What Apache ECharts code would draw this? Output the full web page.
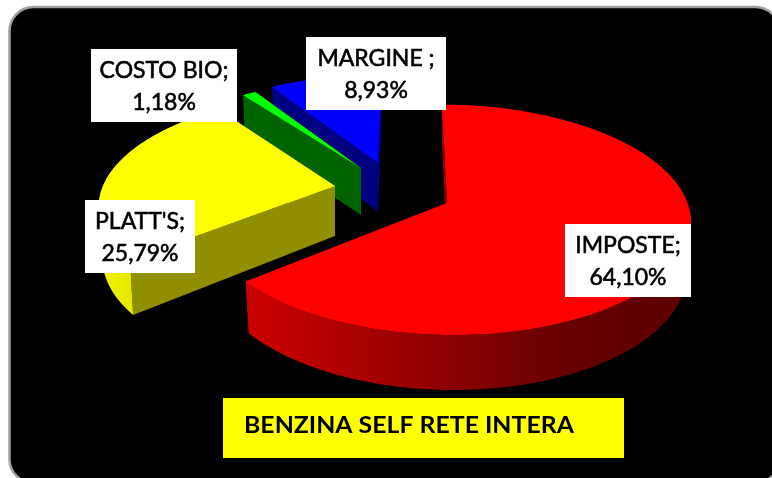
<!DOCTYPE html>
<html><head><meta charset="utf-8">
<style>html,body{margin:0;padding:0;background:#fff}#c{width:772px;height:478px}</style>
<script src="https://cdn.jsdelivr.net/npm/echarts@6/dist/echarts.min.js"></script>
</head><body><div id="c"></div>
<script>
// Data
const categories = ['IMPOSTE', "PLATT'S", 'COSTO BIO', 'MARGINE '];
const percentages = [64.10, 25.79, 1.18, 8.93];
const percentLabels = ['64,10%', '25,79%', '1,18%', '8,93%'];
const chartTitle = 'BENZINA SELF RETE INTERA';

// Colours per slice: top, radial wall, outer wall gradient stops
const topColors = ['#ff0000', '#ffff00', '#00ff00', '#0000ff'];
const wallColors = ['#8b0000', '#8f8f00', '#006400', '#000080'];
const outerStops = [
  [[0, '#cc0000'], [0.25, '#aa0000'], [0.72, '#660000'], [1, '#5c0000']],
  [[0, '#f4f400'], [1, '#c4c400']],
  [[0, '#006400'], [1, '#006400']],
  [[0, '#000080'], [1, '#000080']]
];
// Exploded-view layout per slice: apex x, y, scale x, scale y, skew, depth
const sliceLayout = [
  { cx: 447, cy: 203, sx: 240.5, sy: 112.7, skew: 5.7, depth: 47 },
  { cx: 335, cy: 186, sx: 232, sy: 106, skew: -10, depth: 50 },
  { cx: 361, cy: 168, sx: 215, sy: 101, skew: 5, depth: 47 },
  { cx: 378, cy: 163, sx: 230, sy: 101, skew: -4, depth: 49 }
];
const paintOrder = [3, 2, 1, 0];
// Label boxes: x, y, w, h
const labelBoxes = [
  [565, 224, 126, 73],
  [85, 200, 110, 73],
  [91, 49, 146, 73],
  [306, 37, 140, 73]
];
const PERSPECTIVE = 0.146;
const BOTTOM_SHRINK = 0.985;

const total = percentages.reduce((a, b) => a + b, 0);
let acc = 0;
const angleStart = [], angleEnd = [];
percentages.forEach((v, i) => {
  angleStart[i] = acc / total * Math.PI * 2;
  acc += v;
  angleEnd[i] = acc / total * Math.PI * 2;
});

function project(L, a, r, lower) {
  const u = Math.sin(a) * r, v = -Math.cos(a) * r;
  const w = 1 - PERSPECTIVE * v;
  const k = lower ? BOTTOM_SHRINK : 1;
  return [
    L.cx + k * (L.sx * u + L.skew * v) / w,
    L.cy + L.sy * v / w + (lower ? L.depth / w : 0)
  ];
}
function arc(L, a0, a1, lower) {
  const n = Math.max(2, Math.ceil(Math.abs(a1 - a0) / 0.02));
  const pts = [];
  for (let i = 0; i <= n; i++) pts.push(project(L, a0 + (a1 - a0) * i / n, 1, lower));
  return pts;
}
function poly(points, fill) {
  return { type: 'polygon', shape: { points }, style: { fill, stroke: null }, silent: true };
}
function renderSlice(params, api) {
  const i = api.value(0);
  const L = sliceLayout[i];
  const a0 = angleStart[i], a1 = angleEnd[i];
  const topArc = arc(L, a0, a1, false), lowArc = arc(L, a0, a1, true);
  const ap = project(L, 0, 0, false), apL = project(L, 0, 0, true);
  const wall = wallColors[i];
  const grad = new echarts.graphic.LinearGradient(0, 0, 1, 0,
    outerStops[i].map(s => ({ offset: s[0], color: s[1] })));
  const children = [
    poly([ap, topArc[0], lowArc[0], apL], wall),
    poly([ap, topArc[topArc.length - 1], lowArc[lowArc.length - 1], apL], wall),
    poly(topArc.concat(lowArc.slice().reverse()), grad),
    poly([ap].concat(topArc), topColors[i])
  ];
  return { type: 'group', children };
}
function renderLabel(params, api) {
  const i = api.value(0);
  const b = labelBoxes[i];
  return {
    type: 'group',
    children: [
      { type: 'rect', shape: { x: b[0], y: b[1], width: b[2], height: b[3] }, style: { fill: '#fff' }, silent: true },
      { type: 'text', silent: true, style: {
        x: b[0] + b[2] / 2, y: b[1] + b[3] / 2 + 1,
        text: categories[i] + ';\n' + percentLabels[i],
        align: 'center', verticalAlign: 'middle',
        font: '23px Lato, "Open Sans", sans-serif', lineHeight: 32, fill: '#000',
        stroke: '#000', lineWidth: 0.6
      } }
    ]
  };
}
const chart = echarts.init(document.getElementById('c'), null, { renderer: 'canvas' });
chart.setOption({
  animation: false,
  backgroundColor: '#ffffff',
  graphic: [
    { type: 'rect', z: 0, silent: true, shape: { x: 9.5, y: 7, width: 770, height: 476, r: 24 },
      style: { fill: '#000', stroke: '#a0a0a0', lineWidth: 2.5 } },
    { type: 'rect', z: 5, silent: true, shape: { x: 223, y: 398, width: 401, height: 60 }, style: { fill: '#ffff00' } },
    { type: 'text', z: 6, silent: true, x: 244, y: 426, scaleX: 1.08, style: {
        text: chartTitle, font: 'bold 23px Lato, sans-serif', fill: '#000', verticalAlign: 'middle', align: 'left' } }
  ],
  series: [
    { type: 'custom', coordinateSystem: 'none', z: 2, renderItem: renderSlice, silent: true,
      data: paintOrder.map(i => [i, percentages[i]]) },
    { type: 'custom', coordinateSystem: 'none', z: 3, renderItem: renderLabel, silent: true,
      data: paintOrder.map(i => [i, percentages[i]]) }
  ]
});
</script></body></html>
